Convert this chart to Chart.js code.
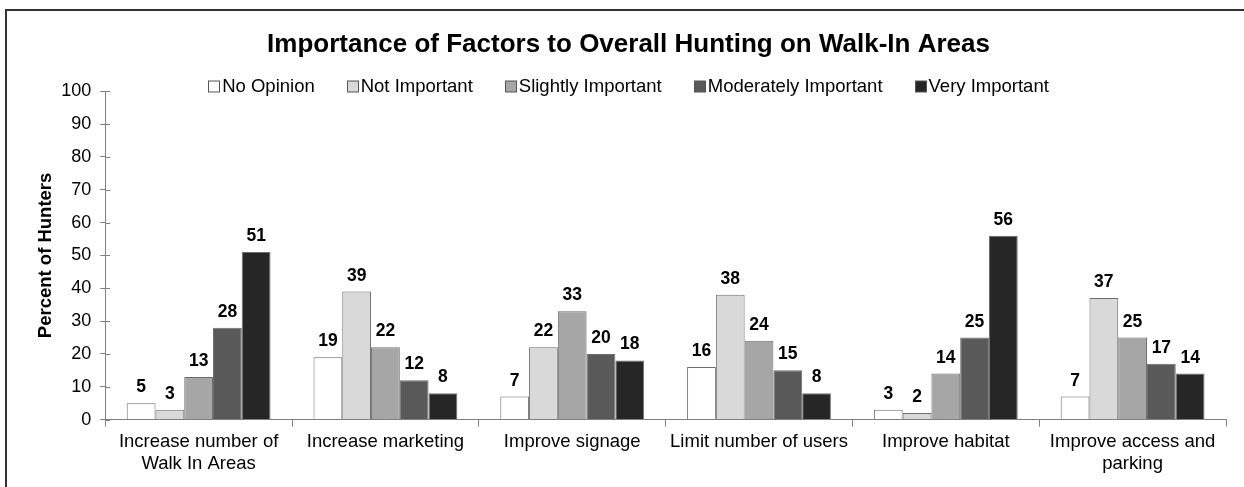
<!DOCTYPE html>
<html>
<head>
<meta charset="utf-8">
<script src="https://cdn.jsdelivr.net/npm/chart.js@4"></script>
<style>
  html, body { margin: 0; padding: 0; background: #fff; }
  #wrap { position: absolute; left: 0; top: 0; width: 1244px; height: 487px; }
  #frame { position: absolute; left: 5px; top: 9px; width: 1239px; height: 478px;
           border-left: 2px solid #333; border-top: 2px solid #333; box-sizing: border-box; }
  canvas { position: absolute; left: 0; top: 0; }
</style>
</head>
<body>
<div id="wrap">
  <div id="frame"></div>
  <canvas id="myChart" width="1244" height="487"></canvas>
</div>
<script>
const categories = [
  ["Increase number of", "Walk In Areas"],
  "Increase marketing",
  "Improve signage",
  "Limit number of users",
  "Improve habitat",
  ["Improve access and", "parking"]
];
const seriesNames = ["No Opinion", "Not Important", "Slightly Important", "Moderately Important", "Very Important"];
const noOpinion = [5, 19, 7, 16, 3, 7];
const notImportant = [3, 39, 22, 38, 2, 37];
const slightlyImportant = [13, 22, 33, 24, 14, 25];
const moderatelyImportant = [28, 12, 20, 15, 25, 17];
const veryImportant = [51, 8, 18, 8, 56, 14];
const colors = ["#ffffff", "#d9d9d9", "#a6a6a6", "#595959", "#262626"];

const allSeries = [noOpinion, notImportant, slightlyImportant, moderatelyImportant, veryImportant];
const fontFamily = "'Liberation Sans', Arial, sans-serif";

// value labels above each bar
const valueLabels = {
  id: 'valueLabels',
  afterDatasetsDraw(chart) {
    const ctx = chart.ctx;
    ctx.save();
    ctx.font = "bold 17.5px " + fontFamily;
    ctx.fillStyle = "#000";
    ctx.textAlign = "center";
    ctx.textBaseline = "alphabetic";
    chart.data.datasets.forEach(function(ds, i) {
      chart.getDatasetMeta(i).data.forEach(function(bar, j) {
        ctx.fillText(ds.data[j], bar.x, bar.y - 11);
      });
    });
    ctx.restore();
  }
};

// legend drawn in one row between title and plot
const rowLegend = {
  id: 'rowLegend',
  afterDraw(chart) {
    const ctx = chart.ctx;
    const box = 11, gapText = 3, gapItem = 32;
    ctx.save();
    ctx.font = "18.5px " + fontFamily;
    const items = chart.data.datasets.map(function(ds) {
      return { text: ds.label, color: ds.backgroundColor, w: box + gapText + ctx.measureText(ds.label).width };
    });
    let total = items.reduce(function(s, it) { return s + it.w; }, 0) + gapItem * (items.length - 1);
    const tb = chart.titleBlock;
    let x = (tb.left + tb.right) / 2 - total / 2;
    const cy = 86;
    ctx.textBaseline = "middle";
    ctx.textAlign = "left";
    items.forEach(function(it) {
      ctx.fillStyle = it.color;
      ctx.fillRect(Math.round(x) + 0.5, cy - box / 2 + 0.5, box, box);
      ctx.strokeStyle = "#555";
      ctx.lineWidth = 1;
      ctx.strokeRect(Math.round(x) + 0.5, cy - box / 2 + 0.5, box, box);
      ctx.fillStyle = "#000";
      ctx.fillText(it.text, x + box + gapText, cy + 1);
      x += it.w + gapItem;
    });
    ctx.restore();
  }
};

// inward half of the major y ticks
const innerTicks = {
  id: 'innerTicks',
  afterDraw(chart) {
    const y = chart.scales.y;
    const ctx = chart.ctx;
    ctx.save();
    ctx.strokeStyle = "#808080";
    ctx.lineWidth = 1;
    y.ticks.forEach(function(t) {
      if (t.value % 10 !== 0) return;
      const py = Math.round(y.getPixelForValue(t.value)) + 0.5;
      ctx.beginPath();
      ctx.moveTo(y.right, py);
      ctx.lineTo(y.right + 5, py);
      ctx.stroke();
    });
    ctx.restore();
  }
};

new Chart(document.getElementById("myChart").getContext("2d"), {
  type: "bar",
  data: {
    labels: categories,
    datasets: allSeries.map(function(vals, i) {
      return {
        label: seriesNames[i],
        data: vals,
        backgroundColor: colors[i],
        borderColor: "#6e6e6e",
        borderWidth: 1,
        barPercentage: 1,
        categoryPercentage: 0.77
      };
    })
  },
  plugins: [valueLabels, rowLegend, innerTicks],
  options: {
    responsive: false,
    animation: false,
    events: [],
    layout: { autoPadding: false, padding: { left: 31, right: 18, top: 22, bottom: 8 } },
    plugins: {
      title: {
        display: true,
        text: "Importance of Factors to Overall Hunting on Walk-In Areas",
        color: "#000",
        font: { family: fontFamily, size: 26, weight: "bold" },
        padding: { top: 7, bottom: 31 }
      },
      legend: { display: false },
      tooltip: { enabled: false }
    },
    scales: {
      x: {
        grid: { display: true, drawOnChartArea: false, offset: true, color: "#808080", tickLength: 7 },
        border: { color: "#808080", width: 1 },
        ticks: { color: "#000", font: { family: fontFamily, size: 18.5 }, maxRotation: 0, autoSkip: false, padding: 4 }
      },
      y: {
        min: 0,
        max: 100,
        title: {
          display: true,
          text: "Percent of Hunters",
          color: "#000",
          font: { family: fontFamily, size: 18.5, weight: "bold" },
          padding: { top: 4, bottom: -5 }
        },
        grid: { display: true, drawOnChartArea: false, color: "#808080", tickLength: 5 },
        border: { color: "#808080", width: 1 },
        ticks: {
          stepSize: 5,
          color: "#000",
          font: { family: fontFamily, size: 18 },
          padding: 9,
          callback: function(v) { return v % 10 === 0 ? v : ""; }
        }
      }
    }
  }
});
</script>
</body>
</html>
